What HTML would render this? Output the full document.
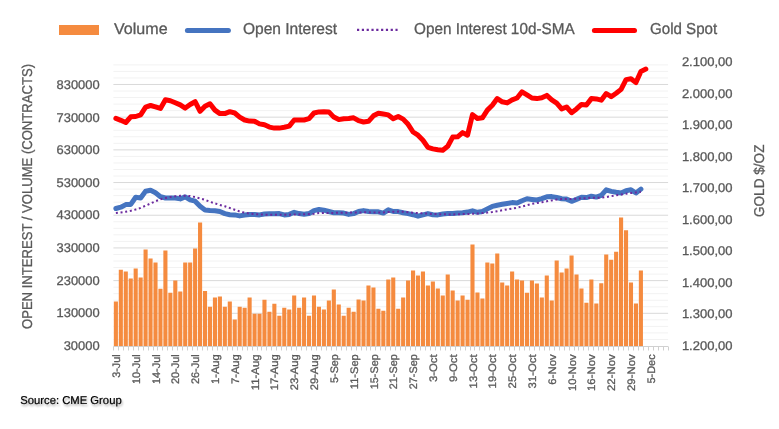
<!DOCTYPE html><html><head><meta charset="utf-8"><style>html,body{margin:0;padding:0;background:#fff;}svg{display:block;will-change:transform;}text{font-family:"Liberation Sans",sans-serif;text-rendering:geometricPrecision;stroke:#595959;stroke-width:0.3px;}.src{stroke:#000;stroke-width:0.2px;}</style></head><body>
<svg width="779" height="429" viewBox="0 0 779 429">
<rect width="779" height="429" fill="#fff"/>
<defs><filter id="sh" x="-10%" y="-50%" width="130%" height="250%"><feGaussianBlur in="SourceAlpha" stdDeviation="1"/><feOffset dx="0.8" dy="1.5"/><feComponentTransfer><feFuncA type="linear" slope="0.35"/></feComponentTransfer><feMerge><feMergeNode/><feMergeNode in="SourceGraphic"/></feMerge></filter></defs>
<path d="M113.4 339.46H668.1M113.4 332.92H668.1M113.4 326.39H668.1M113.4 319.85H668.1M113.4 306.77H668.1M113.4 300.23H668.1M113.4 293.70H668.1M113.4 287.16H668.1M113.4 274.08H668.1M113.4 267.54H668.1M113.4 261.01H668.1M113.4 254.47H668.1M113.4 241.39H668.1M113.4 234.85H668.1M113.4 228.32H668.1M113.4 221.78H668.1M113.4 208.70H668.1M113.4 202.16H668.1M113.4 195.63H668.1M113.4 189.09H668.1M113.4 176.01H668.1M113.4 169.47H668.1M113.4 162.94H668.1M113.4 156.40H668.1M113.4 143.32H668.1M113.4 136.78H668.1M113.4 130.25H668.1M113.4 123.71H668.1M113.4 110.63H668.1M113.4 104.09H668.1M113.4 97.56H668.1M113.4 91.02H668.1M113.4 77.94H668.1M113.4 71.40H668.1M113.4 64.87H668.1" stroke="#F2F2F2" stroke-width="1" fill="none"/>
<path d="M113.4 313.31H668.1M113.4 280.62H668.1M113.4 247.93H668.1M113.4 215.24H668.1M113.4 182.55H668.1M113.4 149.86H668.1M113.4 117.17H668.1M113.4 84.48H668.1" stroke="#D9D9D9" stroke-width="1" fill="none"/>
<path d="M113.83 301.6h4.1V346.0h-4.1ZM118.78 269.7h4.1V346.0h-4.1ZM123.73 271.6h4.1V346.0h-4.1ZM128.69 278.5h4.1V346.0h-4.1ZM133.64 268.6h4.1V346.0h-4.1ZM138.59 277.5h4.1V346.0h-4.1ZM143.54 249.6h4.1V346.0h-4.1ZM148.50 258.4h4.1V346.0h-4.1ZM153.45 262.5h4.1V346.0h-4.1ZM158.40 288.7h4.1V346.0h-4.1ZM163.36 250.4h4.1V346.0h-4.1ZM168.31 292.7h4.1V346.0h-4.1ZM173.26 280.4h4.1V346.0h-4.1ZM178.22 291.4h4.1V346.0h-4.1ZM183.17 262.5h4.1V346.0h-4.1ZM188.12 262.5h4.1V346.0h-4.1ZM193.07 248.5h4.1V346.0h-4.1ZM198.03 222.5h4.1V346.0h-4.1ZM202.98 290.9h4.1V346.0h-4.1ZM207.93 306.7h4.1V346.0h-4.1ZM212.89 297.6h4.1V346.0h-4.1ZM217.84 296.5h4.1V346.0h-4.1ZM222.79 306.7h4.1V346.0h-4.1ZM227.75 301.6h4.1V346.0h-4.1ZM232.70 319.6h4.1V346.0h-4.1ZM237.65 306.7h4.1V346.0h-4.1ZM242.60 307.8h4.1V346.0h-4.1ZM247.56 297.6h4.1V346.0h-4.1ZM252.51 313.7h4.1V346.0h-4.1ZM257.46 313.7h4.1V346.0h-4.1ZM262.42 299.7h4.1V346.0h-4.1ZM267.37 311.8h4.1V346.0h-4.1ZM272.32 303.7h4.1V346.0h-4.1ZM277.28 315.8h4.1V346.0h-4.1ZM282.23 307.8h4.1V346.0h-4.1ZM287.18 309.6h4.1V346.0h-4.1ZM292.13 295.4h4.1V346.0h-4.1ZM297.09 307.8h4.1V346.0h-4.1ZM302.04 297.6h4.1V346.0h-4.1ZM306.99 315.8h4.1V346.0h-4.1ZM311.95 295.4h4.1V346.0h-4.1ZM316.90 306.7h4.1V346.0h-4.1ZM321.85 309.6h4.1V346.0h-4.1ZM326.81 300.5h4.1V346.0h-4.1ZM331.76 289.5h4.1V346.0h-4.1ZM336.71 304.5h4.1V346.0h-4.1ZM341.66 315.8h4.1V346.0h-4.1ZM346.62 307.8h4.1V346.0h-4.1ZM351.57 311.8h4.1V346.0h-4.1ZM356.52 299.5h4.1V346.0h-4.1ZM361.48 300.5h4.1V346.0h-4.1ZM366.43 285.5h4.1V346.0h-4.1ZM371.38 287.4h4.1V346.0h-4.1ZM376.34 308.8h4.1V346.0h-4.1ZM381.29 310.7h4.1V346.0h-4.1ZM386.24 279.6h4.1V346.0h-4.1ZM391.19 277.5h4.1V346.0h-4.1ZM396.15 308.8h4.1V346.0h-4.1ZM401.10 297.6h4.1V346.0h-4.1ZM406.05 280.4h4.1V346.0h-4.1ZM411.01 270.5h4.1V346.0h-4.1ZM415.96 275.6h4.1V346.0h-4.1ZM420.91 271.6h4.1V346.0h-4.1ZM425.87 285.5h4.1V346.0h-4.1ZM430.82 281.5h4.1V346.0h-4.1ZM435.77 288.5h4.1V346.0h-4.1ZM440.72 295.4h4.1V346.0h-4.1ZM445.68 274.5h4.1V346.0h-4.1ZM450.63 290.6h4.1V346.0h-4.1ZM455.58 300.5h4.1V346.0h-4.1ZM460.54 295.4h4.1V346.0h-4.1ZM465.49 299.7h4.1V346.0h-4.1ZM470.44 244.5h4.1V346.0h-4.1ZM475.40 292.5h4.1V346.0h-4.1ZM480.35 298.6h4.1V346.0h-4.1ZM485.30 262.5h4.1V346.0h-4.1ZM490.25 263.5h4.1V346.0h-4.1ZM495.21 253.6h4.1V346.0h-4.1ZM500.16 282.6h4.1V346.0h-4.1ZM505.11 285.5h4.1V346.0h-4.1ZM510.07 271.6h4.1V346.0h-4.1ZM515.02 279.6h4.1V346.0h-4.1ZM519.97 280.4h4.1V346.0h-4.1ZM524.93 292.7h4.1V346.0h-4.1ZM529.88 280.4h4.1V346.0h-4.1ZM534.83 283.6h4.1V346.0h-4.1ZM539.78 297.6h4.1V346.0h-4.1ZM544.74 275.6h4.1V346.0h-4.1ZM549.69 300.5h4.1V346.0h-4.1ZM554.64 260.6h4.1V346.0h-4.1ZM559.60 272.6h4.1V346.0h-4.1ZM564.55 268.6h4.1V346.0h-4.1ZM569.50 255.5h4.1V346.0h-4.1ZM574.46 274.5h4.1V346.0h-4.1ZM579.41 288.5h4.1V346.0h-4.1ZM584.36 302.7h4.1V346.0h-4.1ZM589.31 279.4h4.1V346.0h-4.1ZM594.27 303.6h4.1V346.0h-4.1ZM599.22 283.3h4.1V346.0h-4.1ZM604.17 254.5h4.1V346.0h-4.1ZM609.13 259.7h4.1V346.0h-4.1ZM614.08 251.8h4.1V346.0h-4.1ZM619.03 217.6h4.1V346.0h-4.1ZM623.99 230.3h4.1V346.0h-4.1ZM628.94 282.4h4.1V346.0h-4.1ZM633.89 303.6h4.1V346.0h-4.1ZM638.84 270.6h4.1V346.0h-4.1Z" fill="#F58B3F"/>
<path d="M113.4 346.5H668.1" stroke="#D0D0D0" stroke-width="1"/>
<path d="M113.50 346.5V350.5M118.50 346.5V350.5M123.50 346.5V350.5M128.50 346.5V350.5M133.50 346.5V350.5M138.50 346.5V350.5M143.50 346.5V350.5M148.50 346.5V350.5M153.50 346.5V350.5M157.50 346.5V350.5M162.50 346.5V350.5M167.50 346.5V350.5M172.50 346.5V350.5M177.50 346.5V350.5M182.50 346.5V350.5M187.50 346.5V350.5M192.50 346.5V350.5M197.50 346.5V350.5M202.50 346.5V350.5M207.50 346.5V350.5M212.50 346.5V350.5M217.50 346.5V350.5M222.50 346.5V350.5M227.50 346.5V350.5M232.50 346.5V350.5M237.50 346.5V350.5M242.50 346.5V350.5M247.50 346.5V350.5M252.50 346.5V350.5M257.50 346.5V350.5M261.50 346.5V350.5M266.50 346.5V350.5M271.50 346.5V350.5M276.50 346.5V350.5M281.50 346.5V350.5M286.50 346.5V350.5M291.50 346.5V350.5M296.50 346.5V350.5M301.50 346.5V350.5M306.50 346.5V350.5M311.50 346.5V350.5M316.50 346.5V350.5M321.50 346.5V350.5M326.50 346.5V350.5M331.50 346.5V350.5M336.50 346.5V350.5M341.50 346.5V350.5M346.50 346.5V350.5M351.50 346.5V350.5M356.50 346.5V350.5M361.50 346.5V350.5M366.50 346.5V350.5M370.50 346.5V350.5M375.50 346.5V350.5M380.50 346.5V350.5M385.50 346.5V350.5M390.50 346.5V350.5M395.50 346.5V350.5M400.50 346.5V350.5M405.50 346.5V350.5M410.50 346.5V350.5M415.50 346.5V350.5M420.50 346.5V350.5M425.50 346.5V350.5M430.50 346.5V350.5M435.50 346.5V350.5M440.50 346.5V350.5M445.50 346.5V350.5M450.50 346.5V350.5M455.50 346.5V350.5M460.50 346.5V350.5M465.50 346.5V350.5M470.50 346.5V350.5M474.50 346.5V350.5M479.50 346.5V350.5M484.50 346.5V350.5M489.50 346.5V350.5M494.50 346.5V350.5M499.50 346.5V350.5M504.50 346.5V350.5M509.50 346.5V350.5M514.50 346.5V350.5M519.50 346.5V350.5M524.50 346.5V350.5M529.50 346.5V350.5M534.50 346.5V350.5M539.50 346.5V350.5M544.50 346.5V350.5M549.50 346.5V350.5M554.50 346.5V350.5M559.50 346.5V350.5M564.50 346.5V350.5M569.50 346.5V350.5M574.50 346.5V350.5M578.50 346.5V350.5M583.50 346.5V350.5M588.50 346.5V350.5M593.50 346.5V350.5M598.50 346.5V350.5M603.50 346.5V350.5M608.50 346.5V350.5M613.50 346.5V350.5M618.50 346.5V350.5M623.50 346.5V350.5M628.50 346.5V350.5M633.50 346.5V350.5M638.50 346.5V350.5M643.50 346.5V350.5M648.50 346.5V350.5M653.50 346.5V350.5M658.50 346.5V350.5M663.50 346.5V350.5M668.50 346.5V350.5" stroke="#D0D0D0" stroke-width="1" fill="none"/>
<polyline points="115.88,208.5 120.83,207.2 125.78,204.6 130.74,204.4 135.69,197.3 140.64,198.0 145.59,191.3 150.55,190.3 155.50,192.8 160.45,196.7 165.41,198.0 170.36,198.0 175.31,198.0 180.27,198.9 185.22,196.9 190.17,199.9 195.12,201.2 200.08,206.3 205.03,210.0 209.98,210.5 214.94,210.8 219.89,211.5 224.84,213.6 229.80,214.7 234.75,214.9 239.70,215.9 244.65,215.0 249.61,214.4 254.56,214.4 259.51,214.9 264.47,214.0 269.42,213.8 274.37,213.8 279.33,213.6 284.28,214.9 289.23,214.4 294.18,212.3 299.14,213.6 304.09,214.2 309.04,213.6 314.00,210.6 318.95,209.5 323.90,210.2 328.86,211.5 333.81,212.7 338.76,212.7 343.71,213.1 348.67,214.4 353.62,213.6 358.57,211.5 363.53,210.6 368.48,211.5 373.43,211.8 378.39,211.8 383.34,213.1 388.29,209.8 393.24,211.5 398.20,211.6 403.15,212.7 408.10,213.6 413.06,214.7 418.01,216.2 422.96,214.9 427.92,213.6 432.87,214.7 437.82,214.9 442.77,214.0 447.73,213.6 452.68,213.6 457.63,213.1 462.59,212.7 467.54,212.1 472.49,210.8 477.45,212.3 482.40,211.5 487.35,208.9 492.30,206.4 497.26,205.2 502.21,204.3 507.16,203.5 512.12,202.6 517.07,203.0 522.02,200.7 526.98,198.7 531.93,199.4 536.88,200.0 541.83,198.7 546.79,196.8 551.74,196.6 556.69,197.5 561.65,198.7 566.60,199.1 571.55,201.3 576.51,199.4 581.46,197.3 586.41,197.6 591.36,196.2 596.32,197.1 601.27,195.3 606.22,189.8 611.18,191.4 616.13,192.3 621.08,193.0 626.04,190.7 630.99,189.8 635.94,193.0 640.89,189.1" fill="none" stroke="#4574C0" stroke-width="5.0" stroke-linejoin="round" stroke-linecap="round"/>
<polyline points="115.88,213.1 120.83,212.5 125.78,211.7 130.74,210.8 135.69,209.5 140.64,207.9 145.59,205.7 150.55,203.5 155.50,201.2 160.45,199.3 165.41,198.0 170.36,196.9 175.31,196.3 180.27,195.8 185.22,195.7 190.17,196.0 195.12,197.1 200.08,198.4 205.03,199.9 209.98,201.8 214.94,203.4 219.89,205.0 224.84,206.3 229.80,208.0 234.75,209.8 239.70,211.5 244.65,212.7 249.61,213.6 254.56,214.1 259.51,214.4 264.47,214.7 269.42,214.8 274.37,214.8 279.33,214.8 284.28,214.8 289.23,214.7 294.18,214.4 299.14,214.4 304.09,214.3 309.04,214.1 314.00,213.8 318.95,213.1 323.90,212.9 328.86,212.9 333.81,212.9 338.76,212.7 343.71,212.7 348.67,212.6 353.62,212.6 358.57,212.5 363.53,212.3 368.48,212.3 373.43,212.5 378.39,212.6 383.34,212.5 388.29,212.1 393.24,211.8 398.20,211.6 403.15,211.7 408.10,212.3 413.06,212.7 418.01,213.1 422.96,213.4 427.92,213.6 432.87,214.0 437.82,214.1 442.77,214.3 447.73,214.4 452.68,214.4 457.63,214.3 462.59,214.1 467.54,214.0 472.49,213.8 477.45,213.5 482.40,213.1 487.35,212.6 492.30,212.0 497.26,211.2 502.21,210.3 507.16,209.4 512.12,208.6 517.07,207.7 522.02,206.5 526.98,205.2 531.93,203.9 536.88,203.0 541.83,202.2 546.79,201.3 551.74,200.4 556.69,199.6 561.65,199.1 566.60,198.9 571.55,198.9 576.51,198.7 581.46,198.3 586.41,198.1 591.36,197.8 596.32,197.8 601.27,197.6 606.22,197.1 611.18,196.2 616.13,195.3 621.08,194.5 626.04,193.7 630.99,193.0 635.94,192.5 640.89,191.7" fill="none" stroke="#6B2A9E" stroke-width="2" stroke-dasharray="2 2.7"/>
<polyline points="115.88,118.4 120.83,120.3 125.78,122.5 130.74,116.8 135.69,116.5 140.64,114.8 145.59,107.1 150.55,105.5 155.50,106.8 160.45,108.4 165.41,99.8 170.36,100.7 175.31,102.7 180.27,104.9 185.22,108.1 190.17,104.5 195.12,101.7 200.08,111.3 205.03,106.2 209.98,103.7 214.94,110.1 219.89,113.6 224.84,113.6 229.80,111.7 234.75,113.0 239.70,117.1 244.65,120.0 249.61,121.1 254.56,121.3 259.51,123.9 264.47,124.8 269.42,127.1 274.37,128.1 279.33,128.1 284.28,127.3 289.23,126.1 294.18,120.0 299.14,120.0 304.09,120.0 309.04,118.7 314.00,113.0 318.95,111.9 323.90,111.7 328.86,111.9 333.81,117.1 338.76,119.6 343.71,118.7 348.67,118.5 353.62,117.8 358.57,120.7 363.53,122.0 368.48,121.3 373.43,115.8 378.39,113.2 383.34,114.0 388.29,114.9 393.24,118.7 398.20,116.5 403.15,119.1 408.10,124.3 413.06,132.0 418.01,135.2 422.96,140.3 427.92,147.4 432.87,148.9 437.82,149.7 442.77,150.2 447.73,146.3 452.68,137.1 457.63,136.8 462.59,132.6 467.54,135.2 472.49,114.6 477.45,118.5 482.40,117.8 487.35,110.1 492.30,105.3 497.26,98.6 502.21,101.8 507.16,102.9 512.12,99.9 517.07,98.0 522.02,91.8 526.98,94.8 531.93,98.0 536.88,98.6 541.83,97.7 546.79,95.4 551.74,99.9 556.69,103.1 561.65,108.9 566.60,107.0 571.55,112.7 576.51,108.9 581.46,104.4 586.41,105.0 591.36,98.6 596.32,98.9 601.27,100.2 606.22,93.5 611.18,96.7 616.13,93.3 621.08,89.4 626.04,79.6 630.99,78.7 635.94,82.6 640.89,71.4 645.85,69.1" fill="none" stroke="#FF0000" stroke-width="5.0" stroke-linejoin="round" stroke-linecap="round"/>
<text x="99.6" y="349.9" font-size="12.6" fill="#595959" text-anchor="end" textLength="35.9" lengthAdjust="spacingAndGlyphs">30000</text>
<text x="99.6" y="317.2" font-size="12.6" fill="#595959" text-anchor="end" textLength="43.0" lengthAdjust="spacingAndGlyphs">130000</text>
<text x="99.6" y="284.6" font-size="12.6" fill="#595959" text-anchor="end" textLength="43.0" lengthAdjust="spacingAndGlyphs">230000</text>
<text x="99.6" y="252.0" font-size="12.6" fill="#595959" text-anchor="end" textLength="43.0" lengthAdjust="spacingAndGlyphs">330000</text>
<text x="99.6" y="219.4" font-size="12.6" fill="#595959" text-anchor="end" textLength="43.0" lengthAdjust="spacingAndGlyphs">430000</text>
<text x="99.6" y="186.8" font-size="12.6" fill="#595959" text-anchor="end" textLength="43.0" lengthAdjust="spacingAndGlyphs">530000</text>
<text x="99.6" y="154.1" font-size="12.6" fill="#595959" text-anchor="end" textLength="43.0" lengthAdjust="spacingAndGlyphs">630000</text>
<text x="99.6" y="121.5" font-size="12.6" fill="#595959" text-anchor="end" textLength="43.0" lengthAdjust="spacingAndGlyphs">730000</text>
<text x="99.6" y="88.9" font-size="12.6" fill="#595959" text-anchor="end" textLength="43.0" lengthAdjust="spacingAndGlyphs">830000</text>
<text x="681.9" y="350.0" font-size="12.6" fill="#595959" textLength="50.6" lengthAdjust="spacingAndGlyphs">1.200,00</text>
<text x="681.9" y="318.4" font-size="12.6" fill="#595959" textLength="50.6" lengthAdjust="spacingAndGlyphs">1.300,00</text>
<text x="681.9" y="286.9" font-size="12.6" fill="#595959" textLength="50.6" lengthAdjust="spacingAndGlyphs">1.400,00</text>
<text x="681.9" y="255.3" font-size="12.6" fill="#595959" textLength="50.6" lengthAdjust="spacingAndGlyphs">1.500,00</text>
<text x="681.9" y="223.8" font-size="12.6" fill="#595959" textLength="50.6" lengthAdjust="spacingAndGlyphs">1.600,00</text>
<text x="681.9" y="192.2" font-size="12.6" fill="#595959" textLength="50.6" lengthAdjust="spacingAndGlyphs">1.700,00</text>
<text x="681.9" y="160.7" font-size="12.6" fill="#595959" textLength="50.6" lengthAdjust="spacingAndGlyphs">1.800,00</text>
<text x="681.9" y="129.2" font-size="12.6" fill="#595959" textLength="50.6" lengthAdjust="spacingAndGlyphs">1.900,00</text>
<text x="681.9" y="97.6" font-size="12.6" fill="#595959" textLength="50.6" lengthAdjust="spacingAndGlyphs">2.000,00</text>
<text x="681.9" y="66.1" font-size="12.6" fill="#595959" textLength="50.6" lengthAdjust="spacingAndGlyphs">2.100,00</text>
<text transform="translate(119.98,354.3) rotate(-90)" font-size="10.9" fill="#595959" text-anchor="end" textLength="23.49" lengthAdjust="spacingAndGlyphs">3-Jul</text>
<text transform="translate(139.79,354.3) rotate(-90)" font-size="10.9" fill="#595959" text-anchor="end" textLength="29.80" lengthAdjust="spacingAndGlyphs">10-Jul</text>
<text transform="translate(159.60,354.3) rotate(-90)" font-size="10.9" fill="#595959" text-anchor="end" textLength="29.80" lengthAdjust="spacingAndGlyphs">14-Jul</text>
<text transform="translate(179.41,354.3) rotate(-90)" font-size="10.9" fill="#595959" text-anchor="end" textLength="29.80" lengthAdjust="spacingAndGlyphs">20-Jul</text>
<text transform="translate(199.22,354.3) rotate(-90)" font-size="10.9" fill="#595959" text-anchor="end" textLength="29.80" lengthAdjust="spacingAndGlyphs">26-Jul</text>
<text transform="translate(219.04,354.3) rotate(-90)" font-size="10.9" fill="#595959" text-anchor="end" textLength="29.73" lengthAdjust="spacingAndGlyphs">1-Aug</text>
<text transform="translate(238.85,354.3) rotate(-90)" font-size="10.9" fill="#595959" text-anchor="end" textLength="29.73" lengthAdjust="spacingAndGlyphs">7-Aug</text>
<text transform="translate(258.66,354.3) rotate(-90)" font-size="10.9" fill="#595959" text-anchor="end" textLength="36.04" lengthAdjust="spacingAndGlyphs">11-Aug</text>
<text transform="translate(278.47,354.3) rotate(-90)" font-size="10.9" fill="#595959" text-anchor="end" textLength="36.04" lengthAdjust="spacingAndGlyphs">17-Aug</text>
<text transform="translate(298.28,354.3) rotate(-90)" font-size="10.9" fill="#595959" text-anchor="end" textLength="36.04" lengthAdjust="spacingAndGlyphs">23-Aug</text>
<text transform="translate(318.10,354.3) rotate(-90)" font-size="10.9" fill="#595959" text-anchor="end" textLength="36.04" lengthAdjust="spacingAndGlyphs">29-Aug</text>
<text transform="translate(337.91,354.3) rotate(-90)" font-size="10.9" fill="#595959" text-anchor="end" textLength="28.58" lengthAdjust="spacingAndGlyphs">5-Sep</text>
<text transform="translate(357.72,354.3) rotate(-90)" font-size="10.9" fill="#595959" text-anchor="end" textLength="34.89" lengthAdjust="spacingAndGlyphs">11-Sep</text>
<text transform="translate(377.53,354.3) rotate(-90)" font-size="10.9" fill="#595959" text-anchor="end" textLength="34.89" lengthAdjust="spacingAndGlyphs">15-Sep</text>
<text transform="translate(397.34,354.3) rotate(-90)" font-size="10.9" fill="#595959" text-anchor="end" textLength="34.89" lengthAdjust="spacingAndGlyphs">21-Sep</text>
<text transform="translate(417.16,354.3) rotate(-90)" font-size="10.9" fill="#595959" text-anchor="end" textLength="34.89" lengthAdjust="spacingAndGlyphs">27-Sep</text>
<text transform="translate(436.97,354.3) rotate(-90)" font-size="10.9" fill="#595959" text-anchor="end" textLength="27.80" lengthAdjust="spacingAndGlyphs">3-Oct</text>
<text transform="translate(456.78,354.3) rotate(-90)" font-size="10.9" fill="#595959" text-anchor="end" textLength="27.80" lengthAdjust="spacingAndGlyphs">9-Oct</text>
<text transform="translate(476.59,354.3) rotate(-90)" font-size="10.9" fill="#595959" text-anchor="end" textLength="34.11" lengthAdjust="spacingAndGlyphs">13-Oct</text>
<text transform="translate(496.40,354.3) rotate(-90)" font-size="10.9" fill="#595959" text-anchor="end" textLength="34.11" lengthAdjust="spacingAndGlyphs">19-Oct</text>
<text transform="translate(516.22,354.3) rotate(-90)" font-size="10.9" fill="#595959" text-anchor="end" textLength="34.11" lengthAdjust="spacingAndGlyphs">25-Oct</text>
<text transform="translate(536.03,354.3) rotate(-90)" font-size="10.9" fill="#595959" text-anchor="end" textLength="34.11" lengthAdjust="spacingAndGlyphs">31-Oct</text>
<text transform="translate(555.84,354.3) rotate(-90)" font-size="10.9" fill="#595959" text-anchor="end" textLength="30.35" lengthAdjust="spacingAndGlyphs">6-Nov</text>
<text transform="translate(575.65,354.3) rotate(-90)" font-size="10.9" fill="#595959" text-anchor="end" textLength="36.66" lengthAdjust="spacingAndGlyphs">10-Nov</text>
<text transform="translate(595.46,354.3) rotate(-90)" font-size="10.9" fill="#595959" text-anchor="end" textLength="36.66" lengthAdjust="spacingAndGlyphs">16-Nov</text>
<text transform="translate(615.28,354.3) rotate(-90)" font-size="10.9" fill="#595959" text-anchor="end" textLength="36.66" lengthAdjust="spacingAndGlyphs">22-Nov</text>
<text transform="translate(635.09,354.3) rotate(-90)" font-size="10.9" fill="#595959" text-anchor="end" textLength="36.66" lengthAdjust="spacingAndGlyphs">29-Nov</text>
<text transform="translate(654.90,354.3) rotate(-90)" font-size="10.9" fill="#595959" text-anchor="end" textLength="29.24" lengthAdjust="spacingAndGlyphs">5-Dec</text>
<text transform="translate(31.8,196.5) rotate(-90)" font-size="14.2" fill="#595959" text-anchor="middle" textLength="265" lengthAdjust="spacingAndGlyphs">OPEN INTEREST / VOLUME (CONTRACTS)</text>
<text transform="translate(764.2,180.8) rotate(-90)" font-size="14.2" fill="#595959" text-anchor="middle" textLength="72.5" lengthAdjust="spacingAndGlyphs">GOLD $/OZ</text>
<rect x="59" y="25" width="40" height="10" fill="#F58B3F"/>
<text x="114.0" y="33.9" font-size="15.8" fill="#595959" textLength="53.6" lengthAdjust="spacingAndGlyphs">Volume</text>
<line x1="187.4" x2="228.4" y1="30.4" y2="30.4" stroke="#4574C0" stroke-width="5.0" stroke-linecap="round"/>
<text x="242.9" y="33.9" font-size="15.8" fill="#595959" textLength="94.2" lengthAdjust="spacingAndGlyphs">Open Interest</text>
<line x1="357.0" x2="397.6" y1="29.9" y2="29.9" stroke="#6B2A9E" stroke-width="2.1" stroke-dasharray="2.2 2.61"/>
<text x="414.0" y="33.9" font-size="15.8" fill="#595959" textLength="160.6" lengthAdjust="spacingAndGlyphs">Open Interest 10d-SMA</text>
<line x1="594.4" x2="634.5" y1="30.4" y2="30.4" stroke="#FF0000" stroke-width="5.0" stroke-linecap="round"/>
<text x="650.0" y="33.9" font-size="15.8" fill="#595959" textLength="67.2" lengthAdjust="spacingAndGlyphs">Gold Spot</text>
<text class="src" x="20.2" y="404.2" font-size="11.4" fill="#000" textLength="101.5" lengthAdjust="spacingAndGlyphs" filter="url(#sh)">Source: CME Group</text>
</svg></body></html>
